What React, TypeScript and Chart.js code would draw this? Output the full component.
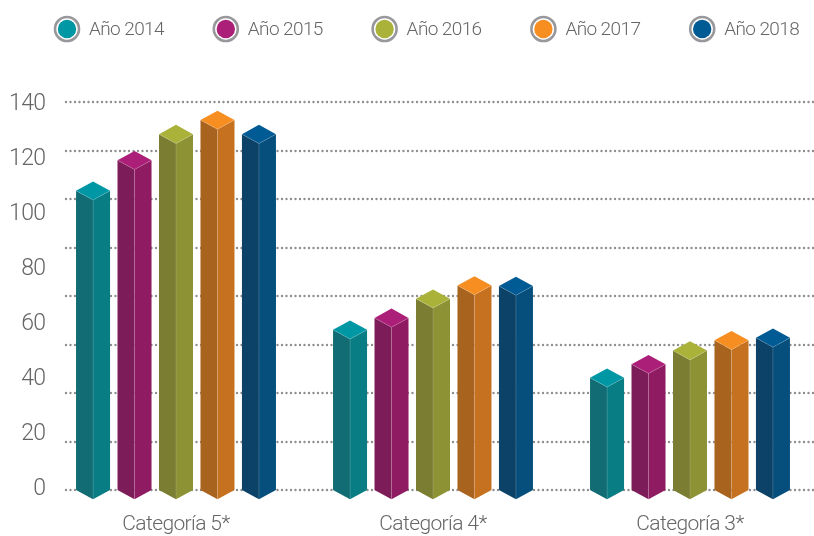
import React, { useEffect, useRef } from "react";
import { Chart, registerables } from "chart.js";

Chart.register(...registerables);

const categories = ["Categoría 5*", "Categoría 4*", "Categoría 3*"];
const seriesNames = ["Año 2014", "Año 2015", "Año 2016", "Año 2017", "Año 2018"];
const y2014 = [108, 57.8, 40.5];
const y2015 = [119, 62.1, 45.4];
const y2016 = [128.4, 69, 50.3];
const y2017 = [133.5, 73.8, 54];
const y2018 = [128.4, 73.6, 54.9];
const allSeries = [y2014, y2015, y2016, y2017, y2018];
const tickLabels = [0, 20, 40, 60, 80, 100, 120, 140];
const topColors = ["#0097a5", "#ab1f78", "#aab23a", "#f68e22", "#005a94"];
const leftColors = ["#116c73", "#7c1c58", "#7a7d32", "#a8641e", "#0d4268"];
const rightColors = ["#087e84", "#8f1c63", "#8d9235", "#c5711f", "#064f7d"];

const FONT = "Roboto";
const TEXT = "#666666";
const DEPTH = 9.3;

const bars3d = {
  id: "bars3d",
  beforeDatasetDraw(chart: any, args: any) {
    const ctx = chart.ctx;
    const i = args.index;
    for (const el of args.meta.data) {
      const hw = el.width / 2;
      const cx = el.x, top = el.y, base = el.base;
      const face = (pts: number[][], fill: string) => {
        ctx.beginPath();
        pts.forEach((p, k) => (k ? ctx.lineTo(p[0], p[1]) : ctx.moveTo(p[0], p[1])));
        ctx.closePath();
        ctx.fillStyle = fill;
        ctx.fill();
      };
      ctx.save();
      face([[cx - hw, top], [cx, top + DEPTH], [cx, base + DEPTH], [cx - hw, base]], leftColors[i]);
      face([[cx, top + DEPTH], [cx + hw, top], [cx + hw, base], [cx, base + DEPTH]], rightColors[i]);
      face([[cx - hw, top], [cx, top - DEPTH], [cx + hw, top], [cx, top + DEPTH]], topColors[i]);
      ctx.strokeStyle = "rgba(255,255,255,0.14)";
      ctx.lineWidth = 1;
      ctx.beginPath();
      ctx.moveTo(cx - hw, top);
      ctx.lineTo(cx, top + DEPTH);
      ctx.lineTo(cx + hw, top);
      ctx.moveTo(cx, top + DEPTH);
      ctx.lineTo(cx, base + DEPTH);
      ctx.stroke();
      ctx.restore();
    }
    return false;
  },
};

const dottedGrid = {
  id: "dottedGrid",
  beforeDatasetsDraw(chart: any) {
    const ctx = chart.ctx;
    const s = chart.scales.yGrid;
    ctx.save();
    ctx.strokeStyle = "#8f8f8f";
    ctx.lineWidth = 2.4;
    ctx.lineCap = "round";
    ctx.setLineDash([0, 4.5]);
    s.ticks.forEach((_: any, k: number) => {
      const y = Math.round(s.getPixelForTick(k));
      ctx.beginPath();
      ctx.moveTo(66, y);
      ctx.lineTo(816, y);
      ctx.stroke();
    });
    ctx.restore();
  },
};

const legendRow = {
  id: "legendRow",
  beforeDraw(chart: any) {
    chart.ctx.letterSpacing = "-0.6px";
  },
  afterDraw(chart: any) {
    const ctx = chart.ctx;
    ctx.save();
    chart.data.datasets.forEach((d: any, i: number) => {
      const cx = 67 + i * 158.8;
      const cy = 29;
      ctx.beginPath();
      ctx.arc(cx, cy, 12, 0, Math.PI * 2);
      ctx.strokeStyle = "#98989c";
      ctx.lineWidth = 2.6;
      ctx.stroke();
      ctx.beginPath();
      ctx.arc(cx, cy, 9.2, 0, Math.PI * 2);
      ctx.fillStyle = topColors[i];
      ctx.fill();
      ctx.fillStyle = TEXT;
      ctx.font = `300 19px ${FONT}`;
      ctx.textAlign = "left";
      ctx.textBaseline = "middle";
      ctx.fillText(d.label, cx + 22, cy + 1);
    });
    ctx.restore();
  },
};

export default function App() {
  const ref = useRef<HTMLCanvasElement>(null);
  useEffect(() => {
    const chart = new Chart(ref.current as HTMLCanvasElement, {
      type: "bar",
      data: {
        labels: categories,
        datasets: seriesNames.map((label, i) => ({
          label,
          data: allSeries[i],
          backgroundColor: topColors[i],
          categoryPercentage: 0.807,
          barPercentage: 0.82,
          yAxisID: "y",
        })),
      },
      options: {
        responsive: false,
        animation: false,
        layout: { padding: { top: 102, right: 1.5, left: 0, bottom: 0 } },
        plugins: { legend: { display: false }, tooltip: { enabled: false } },
        scales: {
          x: {
            grid: { display: false },
            border: { display: false },
            ticks: { color: TEXT, font: { family: FONT, size: 21, weight: "300" }, padding: 14, maxRotation: 0 },
            afterFit(s: any) {
              s.height = 46;
            },
          },
          y: {
            display: false,
            min: 0,
            max: 140,
          },
          yLabels: {
            position: "left",
            min: -0.25,
            max: 140.7,
            grid: { display: false, drawTicks: false },
            border: { display: false },
            ticks: { color: TEXT, font: { family: FONT, size: 23, weight: "300" }, padding: 2, autoSkip: false },
            afterBuildTicks(s: any) {
              s.ticks = tickLabels.map((value) => ({ value }));
            },
            afterFit(s: any) {
              s.width = 47.5;
            },
          },
          yGrid: {
            position: "right",
            min: 0,
            max: 140,
            grid: { display: false, drawTicks: false },
            border: { display: false },
            ticks: { stepSize: 17.5, display: false, autoSkip: false },
            afterFit(s: any) {
              s.width = 0;
            },
          },
        },
      } as any,
      plugins: [dottedGrid, bars3d, legendRow],
    });
    return () => chart.destroy();
  }, []);
  return (
    <div style={{ position: "fixed", left: 0, top: 0, width: 814, height: 536, overflow: "hidden", background: "#fff" }}>
      <canvas ref={ref} width={820} height={536} style={{ display: "block" }} />
    </div>
  );
}
